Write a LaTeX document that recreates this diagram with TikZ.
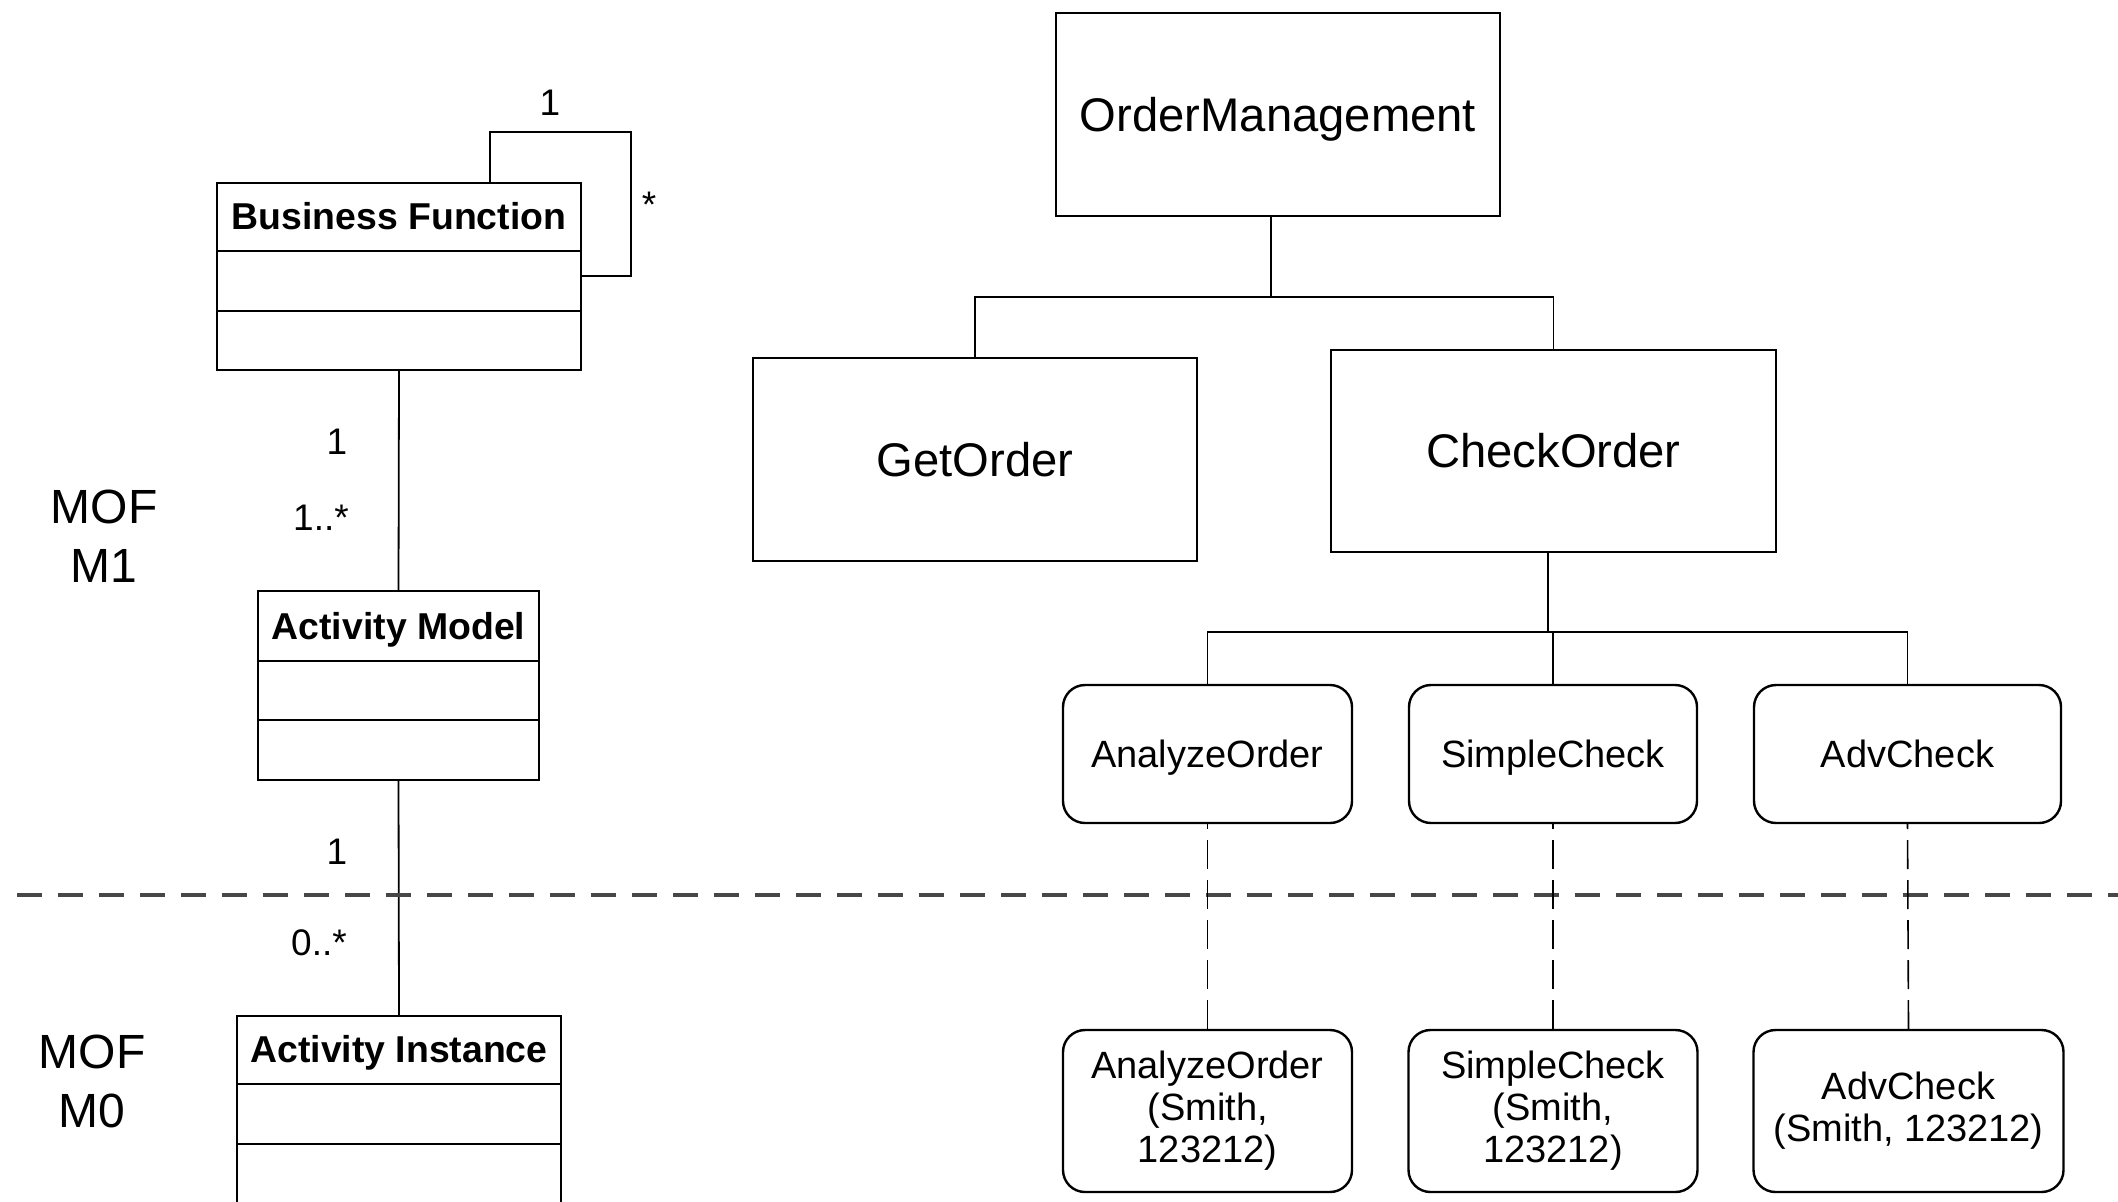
\documentclass[tikz,border=0pt]{standalone}
\usepackage{fontspec}
\setmainfont{Liberation Sans}
\begin{document}
\begin{tikzpicture}[x=0.5pt,y=-0.5pt,
  box/.style={draw, line width=1.2pt, inner sep=0pt},
  rbox/.style={draw, line width=1.2pt, rounded corners=11pt, inner sep=0pt, align=center, font=\fontsize{19}{21}\selectfont},
  onel/.style={text height=17.6pt, text depth=4pt},
  bigtxt/.style={font=\fontsize{23.6}{28}\selectfont, text height=21.9pt, text depth=5pt},
  clstxt/.style={font=\fontsize{18.7}{22}\selectfont\bfseries, inner sep=0pt, text height=17.4pt, text depth=4pt},
  multxt/.style={font=\fontsize{18.5}{22}\selectfont, inner sep=0pt},
  mof/.style={font=\fontsize{24}{29.5}\selectfont, align=center, inner sep=0pt},
  conn/.style={line width=0.9pt},
  compart/.style={line width=1.2pt},
  inst/.style={line width=0.8pt, dash pattern=on 14.5pt off 5.5pt, dash phase=12pt},
  level/.style={line width=2pt, draw=black!72, dash pattern=on 12.5pt off 8pt}
]
\clip (0,0) rectangle (2118,1201);
\fill[white] (0,0) rectangle (2118,1201);

% ---------- left: UML classes ----------
\node[box, minimum width=182pt, minimum height=93.5pt] (bf) at (399,276.5) {};
\node[clstxt] (bft) at (399,216) {Business Function};
\draw[compart] (217,251) -- (581,251);
\draw[compart] (217,311) -- (581,311);

\node[box, minimum width=140.5pt, minimum height=94.5pt] (am) at (398.5,685.5) {};
\node[clstxt] (amt) at (398.5,626) {Activity Model};
\draw[compart] (258,661) -- (539,661);
\draw[compart] (258,720) -- (539,720);

\node[box, minimum width=162pt, minimum height=110pt] (ai) at (399,1126) {};
\node[clstxt] (ait) at (399,1049) {Activity Instance};
\draw[compart] (237,1084) -- (561,1084);
\draw[compart] (237,1144) -- (561,1144);

% self association
\coordinate (l1) at (490,132);
\coordinate (l2) at (631,132);
\coordinate (l3) at (631,276);
\draw[conn] (bf.north -| l1) -- (l1) -- (l2) -- (l3) -- (bf.east |- l3);
\node[multxt] (m1) at (550,103) {1};
\node[multxt] (m2) at (649,205) {*};

% associations
\draw[conn] (bf.south) -- (am.north);
\draw[conn] (am.south) -- (ai.north);
\node[multxt] (m3) at (337,442) {1};
\node[multxt] (m4) at (321,518) {1..*};
\node[multxt] (m5) at (337,852) {1};
\node[multxt] (m6) at (319,943) {0..*};

\node[mof] (mofm1) at (104,536) {MOF\\M1};
\node[mof] (mofm0) at (92,1081) {MOF\\M0};

% level separator
\coordinate (sepl) at (17,895);
\coordinate (sepr) at (2118,895);
\draw[level] (sepl) -- (sepr);

% ---------- right: process tree ----------
\node[box, bigtxt, minimum width=222pt, minimum height=101.5pt] (om) at (1278,114.5) {OrderManagement};
\node[box, bigtxt, minimum width=222pt, minimum height=101.5pt] (go) at (975,459.5) {GetOrder};
\node[box, bigtxt, minimum width=222.5pt, minimum height=101pt] (co) at (1553.5,451) {CheckOrder};

\coordinate (j1) at (1271,297);
\draw[conn] (om.south -| j1) -- (j1);
\draw[conn] (go.north) |- (j1) -| (co.north);

\node[rbox, onel, minimum width=144.5pt, minimum height=69pt] (ao) at (1207.5,754) {AnalyzeOrder};
\node[rbox, onel, minimum width=144pt, minimum height=69pt] (sc) at (1553,754) {SimpleCheck};
\node[rbox, onel, minimum width=153.5pt, minimum height=69pt] (ac) at (1907.5,754) {AdvCheck};

\coordinate (j2) at (1548,632);
\draw[conn] (co.south -| j2) -- (j2);
\draw[conn] (ao.north) |- (j2) -| (ac.north);
\draw[conn] (sc.north) -- (sc.north |- j2);

\node[rbox, minimum width=144.5pt, minimum height=81pt] (ao2) at (1207.5,1111) {AnalyzeOrder\\(Smith,\\123212)};
\node[rbox, minimum width=144.5pt, minimum height=81pt] (sc2) at (1553,1111) {SimpleCheck\\(Smith,\\123212)};
\node[rbox, minimum width=155pt, minimum height=81pt] (ac2) at (1908.5,1111) {AdvCheck\\(Smith, 123212)};

\draw[inst] (ao.south) -- (ao2.north);
\draw[inst] (sc.south) -- (sc2.north);
\draw[inst] (ac.south) -- (ac2.north);
\end{tikzpicture}
\end{document}
